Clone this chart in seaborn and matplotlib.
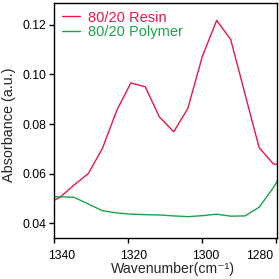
import matplotlib
matplotlib.use("Agg")
import matplotlib.pyplot as plt
import matplotlib.transforms as mtransforms
import seaborn as sns
import pandas as pd

wavenumber = [1342.3, 1338.4, 1334.6, 1330.7, 1326.9, 1323.0, 1319.2, 1315.3, 1311.5,
              1307.6, 1303.8, 1299.9, 1296.0, 1292.2, 1288.3, 1284.5, 1280.6, 1276.8]
resin = [0.0475, 0.0505, 0.0554, 0.0601, 0.0702, 0.0856, 0.0966, 0.0950, 0.0829,
         0.0769, 0.0863, 0.1071, 0.1218, 0.1141, 0.0920, 0.0705, 0.0639, 0.0635]
polymer = [0.0508, 0.0507, 0.0505, 0.0478, 0.0451, 0.0442, 0.0437, 0.0435, 0.0434,
           0.0430, 0.0427, 0.0431, 0.0437, 0.0429, 0.0430, 0.0465, 0.0545, 0.0640]
series_names = ["80/20 Resin", "80/20 Polymer"]
colors = ["#e8174a", "#1aa34a"]
xticks = [1340, 1320, 1300, 1280]
yticks = [0.04, 0.06, 0.08, 0.10, 0.12]

sns.set_theme(style="ticks")
plt.rcParams["font.family"] = ["Liberation Sans", "DejaVu Sans"]

df = pd.DataFrame({
    "Wavenumber": wavenumber * 2,
    "Absorbance": resin + polymer,
    "Sample": [series_names[0]] * len(resin) + [series_names[1]] * len(polymer),
})

fig = plt.figure(figsize=(2.79, 2.79), dpi=100)
ax = fig.add_axes([54 / 279, 1 - 238 / 279, (276.5 - 54) / 279, (238 - 2.5) / 279])
sns.lineplot(data=df, x="Wavenumber", y="Absorbance", hue="Sample",
             palette=colors, linewidth=1.0, ax=ax, sort=False, legend=True)

ax.set_xlim(1340, 1279.8)
ax.set_ylim(0.0341, 0.129)
ax.set_xticks(xticks)
ax.set_xticklabels([str(t) for t in xticks])
ax.set_yticks(yticks)
ax.set_yticklabels([f"{t:.2f}" for t in yticks])
ax.tick_params(axis="both", labelsize=8.7, length=3.5, width=1, direction="out", colors="black")
ax.tick_params(axis="x", pad=5)
ax.tick_params(axis="y", pad=2)
ax.tick_params(top=False, right=False)
for s in ax.spines.values():
    s.set_visible(True)
    s.set_linewidth(1.0)
    s.set_color("black")

# shift x tick labels horizontally as in the reference
offsets_px = [8, 6, 4, -16]
for lab, dx in zip(ax.get_xticklabels(), offsets_px):
    lab.set_transform(lab.get_transform() + mtransforms.ScaledTranslation(dx / 100, 0, fig.dpi_scale_trans))

ax.set_xlabel("Wavenumber(cm\u207b\u00b9)", fontsize=10.2)
ax.xaxis.set_label_coords(0.533, -0.1)
ax.set_ylabel("Absorbance (a.u.)", fontsize=10.4)
ax.yaxis.set_label_coords(-0.17, 0.48)

leg = ax.legend(loc="upper left", frameon=False, fontsize=10.5, handlelength=1.25,
                handletextpad=0.5, borderaxespad=0.25, borderpad=0.3, labelspacing=0.05)
for text, c in zip(leg.get_texts(), colors):
    text.set_color(c)

fig.savefig("out.png", dpi=100)
